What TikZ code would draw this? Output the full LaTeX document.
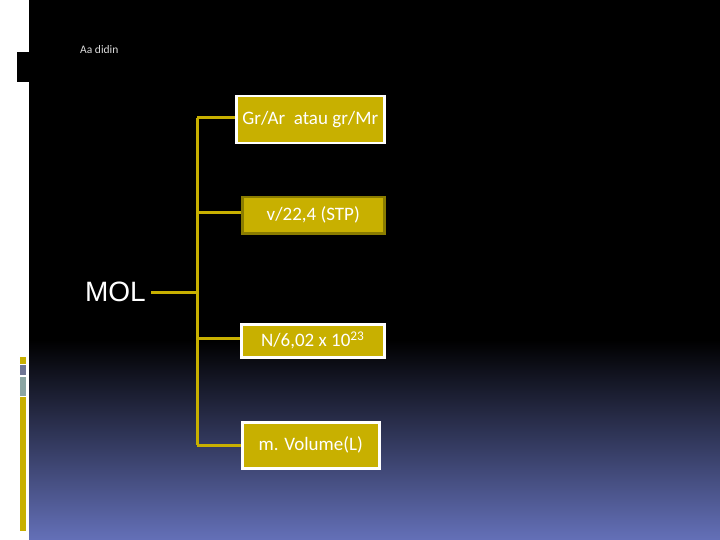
\documentclass[tikz,border=0pt]{standalone}
\usepackage{fontspec}
\setmainfont{Carlito}
\newfontfamily\molfont{Liberation Sans}
\begin{document}
\begin{tikzpicture}[x=1pt,y=-1pt,
  gold/.style={draw=boxgold,line width=3pt},
  mbox/.style={fill=boxgold,draw=white,line width=2.5pt,inner sep=0pt,anchor=north west},
  btext/.style={text=white,font=\fontsize{19}{21}\selectfont},
]
\definecolor{boxgold}{HTML}{C8B000}
\definecolor{darkgold}{HTML}{8A7C00}
\definecolor{bottomblue}{HTML}{6470B8}
\definecolor{bargray}{HTML}{6E7594}
\definecolor{barteal}{HTML}{8AA5A3}
\definecolor{authorgray}{HTML}{DCDCDC}
\useasboundingbox (0,0) rectangle (720,540);
\fill[white] (0,0) rectangle (720,540);
\fill[black] (29,0) rectangle (720,341);
\shade[top color=black,bottom color=bottomblue] (29,340) rectangle (720,540);
% left decorations
\fill[black] (17,52) rectangle (29,82);
\fill[boxgold] (20,357) rectangle (26,364);
\fill[bargray] (20,365) rectangle (26,375);
\fill[barteal] (20,377) rectangle (26,396);
\fill[boxgold] (20,397) rectangle (26,531);
\node[text=authorgray,font=\fontsize{11.5}{12}\selectfont,anchor=west,inner sep=0pt] (author) at (80,50) {Aa didin};
% boxes
\node[mbox,minimum width=148,minimum height=47] (b1) at (235,95) {};
\node[btext] (t1) at (b1.center) {Gr/Ar\ \ atau\ gr/Mr};
\node[mbox,draw=darkgold,minimum width=142,minimum height=36] (b2) at (241,196) {};
\node[btext] (t2) at (b2.center) {v/22,4 (STP)};
\node[mbox,minimum width=143,minimum height=33] (b3) at (240,323) {};
\node[btext] (t3) at (b3.center) {N/6,02 x 10\textsuperscript{23}};
\node[mbox,minimum width=137,minimum height=46] (b4) at (241,421) {};
\node[btext] (t4) at (b4.center) {m. Volume(L)};
\node[text=white,font=\molfont\fontsize{28}{30}\selectfont,anchor=east,inner sep=0pt] (mol) at (146,292) {MOL};
% connectors
\coordinate (v1) at (197,118);
\coordinate (v4) at (197,445);
\coordinate (vm) at (197,292);
\coordinate (ms) at (151,292);
\coordinate (v2) at (197,213);
\coordinate (v3) at (197,338);
\draw[gold] (v1) -- (v4);
\draw[gold] (ms) -- (vm);
\draw[gold] (v1) -- (b1.west |- v1);
\draw[gold] (v2) -- (b2.west |- v2);
\draw[gold] (v3) -- (b3.west |- v3);
\draw[gold] (v4) -- (b4.west |- v4);
\end{tikzpicture}
\end{document}
